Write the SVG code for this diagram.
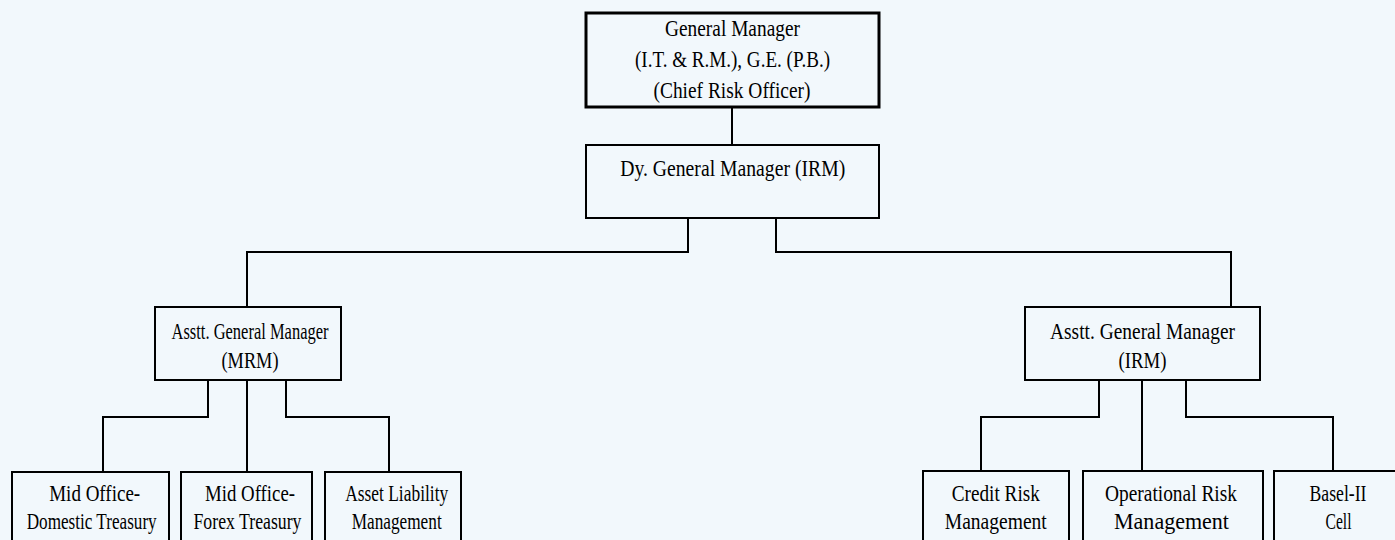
<svg xmlns="http://www.w3.org/2000/svg" width="1395" height="540" viewBox="0 0 1395 540">
<style>
.bg{fill:#F2F8FC}
.box{fill:#F2F8FC;stroke:#000;stroke-width:2}
.box.top{stroke-width:3}
.lbl{font-family:"Liberation Serif","Times New Roman",serif;font-size:23px;fill:#000;text-anchor:middle}
.conn{fill:none;stroke:#000;stroke-width:2}
</style>
<rect class="bg" x="0" y="0" width="1395" height="540"/>
<g id="connectors">
<path class="conn" d="M732,107 V145"/>
<path class="conn" d="M688,218 V252 H247 V307"/>
<path class="conn" d="M776,218 V252 H1231 V307"/>
<path class="conn" d="M208,380 V417 H103 V472"/>
<path class="conn" d="M247,380 V472"/>
<path class="conn" d="M286,380 V417 H389 V472"/>
<path class="conn" d="M1099,380 V417 H981 V471"/>
<path class="conn" d="M1142,380 V471"/>
<path class="conn" d="M1186,380 V417 H1333 V471"/>
</g>
<g id="gm">
<rect class="box top" x="586" y="13" width="293" height="94"/>
<text class="lbl" x="732.5" y="36" textLength="135" lengthAdjust="spacingAndGlyphs">General Manager</text>
<text class="lbl" x="732.5" y="67" textLength="195" lengthAdjust="spacingAndGlyphs">(I.T. &amp; R.M.), G.E. (P.B.)</text>
<text class="lbl" x="732" y="98" textLength="157" lengthAdjust="spacingAndGlyphs">(Chief Risk Officer)</text>
</g>
<g id="dgm">
<rect class="box" x="586" y="145" width="293" height="73"/>
<text class="lbl" x="732.7" y="176" textLength="225" lengthAdjust="spacingAndGlyphs">Dy. General Manager (IRM)</text>
</g>
<g id="agm-mrm">
<rect class="box" x="155" y="307" width="186" height="73"/>
<text class="lbl" x="250" y="339" textLength="157" lengthAdjust="spacingAndGlyphs">Asstt. General Manager</text>
<text class="lbl" x="250" y="368" textLength="57" lengthAdjust="spacingAndGlyphs">(MRM)</text>
</g>
<g id="agm-irm">
<rect class="box" x="1025" y="307" width="235" height="73"/>
<text class="lbl" x="1142.5" y="339" textLength="185" lengthAdjust="spacingAndGlyphs">Asstt. General Manager</text>
<text class="lbl" x="1142.5" y="368" textLength="48" lengthAdjust="spacingAndGlyphs">(IRM)</text>
</g>
<g id="mo-domestic">
<rect class="box" x="12" y="472" width="157" height="80"/>
<text class="lbl" x="94.7" y="501" textLength="91" lengthAdjust="spacingAndGlyphs">Mid Office-</text>
<text class="lbl" x="91.7" y="529" textLength="130" lengthAdjust="spacingAndGlyphs">Domestic Treasury</text>
</g>
<g id="mo-forex">
<rect class="box" x="181" y="472" width="131" height="80"/>
<text class="lbl" x="250" y="501" textLength="90" lengthAdjust="spacingAndGlyphs">Mid Office-</text>
<text class="lbl" x="247.5" y="529" textLength="108" lengthAdjust="spacingAndGlyphs">Forex Treasury</text>
</g>
<g id="alm">
<rect class="box" x="325" y="472" width="136" height="80"/>
<text class="lbl" x="396.7" y="501" textLength="103" lengthAdjust="spacingAndGlyphs">Asset Liability</text>
<text class="lbl" x="396.7" y="529" textLength="90" lengthAdjust="spacingAndGlyphs">Management</text>
</g>
<g id="crm">
<rect class="box" x="923" y="471" width="146" height="80"/>
<text class="lbl" x="995.8" y="501" textLength="88" lengthAdjust="spacingAndGlyphs">Credit Risk</text>
<text class="lbl" x="995.8" y="529" textLength="102" lengthAdjust="spacingAndGlyphs">Management</text>
</g>
<g id="orm">
<rect class="box" x="1083" y="471" width="180" height="80"/>
<text class="lbl" x="1171" y="501" textLength="132" lengthAdjust="spacingAndGlyphs">Operational Risk</text>
<text class="lbl" x="1171.5" y="529" textLength="115" lengthAdjust="spacingAndGlyphs">Management</text>
</g>
<g id="basel">
<rect class="box" x="1274" y="471" width="130" height="80"/>
<text class="lbl" x="1338" y="501" textLength="57" lengthAdjust="spacingAndGlyphs">Basel-II</text>
<text class="lbl" x="1338.5" y="529" textLength="26" lengthAdjust="spacingAndGlyphs">Cell</text>
</g>
</svg>
